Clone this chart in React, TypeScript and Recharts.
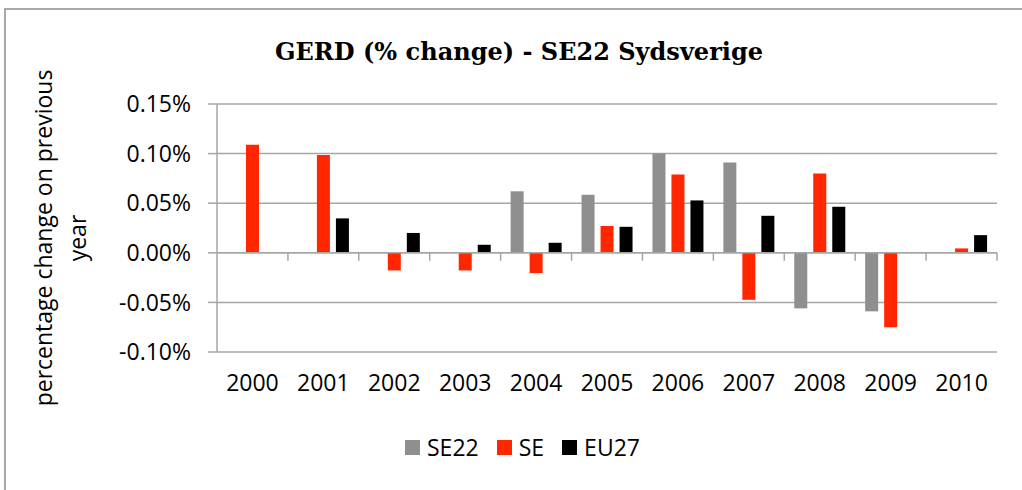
import React from 'react';
import {
  BarChart,
  Bar,
  XAxis,
  YAxis,
  CartesianGrid,
  ReferenceLine,
  Legend,
} from 'recharts';

const years = ['2000', '2001', '2002', '2003', '2004', '2005', '2006', '2007', '2008', '2009', '2010'];
const se22 = [null, null, null, null, 0.062, 0.0585, 0.1, 0.091, -0.056, -0.059, null];
const se = [0.109, 0.0986, -0.0178, -0.0178, -0.0205, 0.027, 0.079, -0.0474, 0.080, -0.075, 0.0044];
const eu27 = [null, 0.0347, 0.02, 0.0081, 0.0101, 0.0262, 0.0528, 0.0373, 0.0464, null, 0.0178];
const yTicks = [-0.1, -0.05, 0, 0.05, 0.1, 0.15];

const series = [
  { key: 'SE22', color: '#8f8f8f' },
  { key: 'SE', color: '#ff2600' },
  { key: 'EU27', color: '#000000' },
];

const data = years.map((year, i) => ({
  year,
  SE22: se22[i],
  SE: se[i],
  EU27: eu27[i],
}));

const FONT = '"Open Sans", sans-serif';
const GRID = '#a6a6a6';

// zero line with the category boundary ticks hanging below it
const ZeroAxis = (props: any) => {
  const { x1, x2, y1 } = props;
  const step = (x2 - x1) / years.length;
  const ticks = [];
  for (let i = 1; i <= years.length; i++) {
    const x = x1 + step * i;
    ticks.push(<line key={i} x1={x} x2={x} y1={y1} y2={y1 + 8} stroke={GRID} strokeWidth={1.5} />);
  }
  return (
    <g>
      <line x1={x1} x2={x2} y1={y1} y2={y1} stroke={GRID} strokeWidth={1.5} />
      {ticks}
    </g>
  );
};

const YLabel = (props: any) => {
  const { viewBox } = props;
  const cy = viewBox.y + viewBox.height / 2 + 10;
  return (
    <g fontFamily={FONT} fontSize={23} fill="#000">
      <text x={43} y={cy} transform={`rotate(-90 43 ${cy})`} textAnchor="middle" dominantBaseline="central">
        percentage change on previous
      </text>
      <text x={77} y={cy} transform={`rotate(-90 77 ${cy})`} textAnchor="middle" dominantBaseline="central">
        year
      </text>
    </g>
  );
};

const LegendContent = () => (
  <div style={{ display: 'flex', alignItems: 'center', fontFamily: FONT, fontSize: 23 }}>
    {series.map(s => (
      <div key={s.key} style={{ display: 'flex', alignItems: 'center', marginRight: 18 }}>
        <span style={{ width: 15, height: 15, background: s.color, marginRight: 7, display: 'inline-block' }} />
        <span>{s.key}</span>
      </div>
    ))}
  </div>
);

export default function App() {
  return (
    <div style={{ position: 'fixed', left: 0, top: 0, width: 1022, height: 490, overflow: 'hidden', background: '#fff' }}>
      <div
        style={{
          position: 'absolute',
          left: 4,
          top: 8,
          width: 1100,
          height: 600,
          border: '2px solid #a9a9a9',
        }}
      />
      <svg style={{ position: 'absolute', left: 0, top: 0 }} width={1022} height={80}>
        <text
          x={519}
          y={60}
          textAnchor="middle"
          fontFamily='"DejaVu Serif", serif'
          fontWeight="bold"
          fontSize={24}
          textLength={488}
          lengthAdjust="spacingAndGlyphs"
        >
          GERD (% change) - SE22 Sydsverige
        </text>
      </svg>
      <div style={{ position: 'absolute', left: 0, top: 0 }}>
        <BarChart
          width={1022}
          height={490}
          data={data}
          margin={{ top: 104, right: 25, left: 0, bottom: 98 }}
          barCategoryGap={10}
          barGap={6}
        >
          <CartesianGrid vertical={false} stroke={GRID} strokeWidth={1.5} />
          <XAxis
            dataKey="year"
            axisLine={false}
            tickLine={false}
            tickSize={0}
            tickMargin={23}
            height={40}
            tick={{ fontFamily: FONT, fontSize: 23, fill: '#000' }}
            interval={0}
          />
          <YAxis
            width={217}
            domain={[-0.1, 0.15]}
            ticks={yTicks}
            allowDataOverflow
            axisLine={{ stroke: GRID, strokeWidth: 1.5 }}
            tickLine={{ stroke: GRID, strokeWidth: 1.5 }}
            tickSize={9}
            tickMargin={17}
            tick={{ fontFamily: FONT, fontSize: 23, fill: '#000' }}
            tickFormatter={(v: number) => `${v.toFixed(2)}%`}
            label={<YLabel />}
          />
          <ReferenceLine y={0} shape={ZeroAxis} />
          {series.map(s => (
            <Bar key={s.key} dataKey={s.key} fill={s.color} isAnimationActive={false} />
          ))}
          <Legend
            layout="horizontal"
            verticalAlign="middle"
            align="center"
            content={<LegendContent />}
            wrapperStyle={{ top: 431, left: 405, width: 400 }}
          />
        </BarChart>
      </div>
    </div>
  );
}
